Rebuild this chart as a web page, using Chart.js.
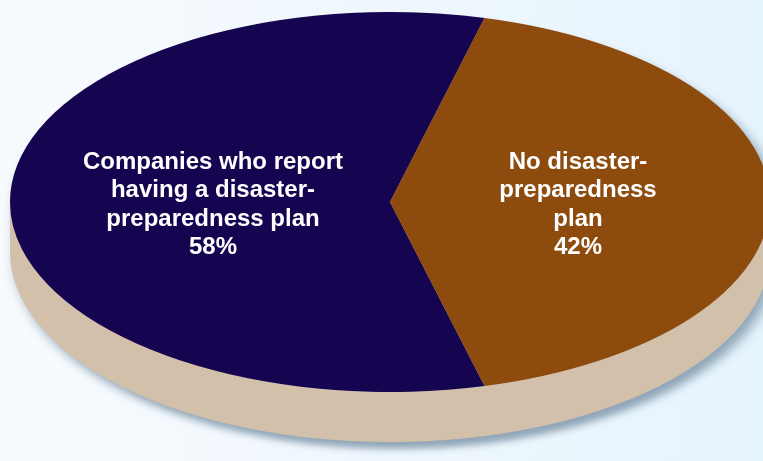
<!DOCTYPE html>
<html lang="en">
<head>
  <meta charset="UTF-8">
  <title>Disaster-Preparedness Plan Pie</title>
  <script src="https://cdn.jsdelivr.net/npm/chart.js"></script>
  <style>
    html, body { margin: 0; padding: 0; }
    body {
      width: 763px; height: 461px; overflow: hidden; position: relative;
      background: linear-gradient(90deg, #f8fbfe 0%, #eff7fd 50%, #e6f4fd 100%);
      font-family: "Liberation Sans", Arial, sans-serif;
    }
    /* pie is drawn as a circle, then squashed into an ellipse */
    #pieWrap {
      position: absolute; left: 1px; top: -187px; width: 778px; height: 899px;
      transform-origin: 389px 389px;
      transform: scaleY(0.5);
    }
    .lbl {
      position: absolute; top: 147px; transform: translateX(-50%);
      color: #fff; font-weight: bold; font-size: 24px; line-height: 28.3px;
      text-align: center; white-space: nowrap;
    }
  </style>
</head>
<body>
  <div id="pieWrap"><canvas id="pieChart" width="778" height="899"></canvas></div>
  <div id="labels"></div>
  <script>
    // chart data
    const categories = ['Companies who report having a disaster-preparedness plan', 'No disaster-preparedness plan'];
    const labelLines = [
      ['Companies who report', 'having a disaster-', 'preparedness plan'],
      ['No disaster-', 'preparedness', 'plan']
    ];
    const values = [58, 42];
    const colors = ['#150550', '#8d4b0e'];

    const total = values.reduce((a, b) => a + b, 0);

    // tan side + soft shadow under the pie
    const depthPlugin = {
      id: 'depth',
      beforeDatasetsDraw(chart) {
        const arc = chart.getDatasetMeta(0).data[0];
        const x = arc.x, y = arc.y, r = arc.outerRadius;
        const d = 100;
        const ctx = chart.ctx;
        ctx.save();
        ctx.shadowColor = 'rgba(70, 100, 125, 0.55)';
        ctx.shadowBlur = 14;
        ctx.shadowOffsetX = 6;
        ctx.shadowOffsetY = 14;
        ctx.fillStyle = '#d3c0aa';
        ctx.beginPath();
        ctx.arc(x, y + d, r, 0, Math.PI);
        ctx.lineTo(x - r, y);
        ctx.arc(x, y, r, Math.PI, 0);
        ctx.closePath();
        ctx.fill();
        ctx.restore();
      }
    };

    new Chart(document.getElementById('pieChart').getContext('2d'), {
      type: 'pie',
      data: {
        labels: categories,
        datasets: [{ data: values, backgroundColor: colors, borderWidth: 0 }]
      },
      options: {
        responsive: false,
        animation: false,
        rotation: 90 + values[1] / total * 180,
        layout: { padding: { left: 9, right: 9, top: 9, bottom: 130 } },
        plugins: { legend: { display: false }, tooltip: { enabled: false } }
      },
      plugins: [depthPlugin]
    });

    // slice labels as text
    const labelX = [213, 578];
    const holder = document.getElementById('labels');
    labelLines.forEach((lines, i) => {
      const div = document.createElement('div');
      div.className = 'lbl';
      div.style.left = labelX[i] + 'px';
      div.innerHTML = lines.concat(values[i] + '%').join('<br>');
      holder.appendChild(div);
    });
  </script>
</body>
</html>
